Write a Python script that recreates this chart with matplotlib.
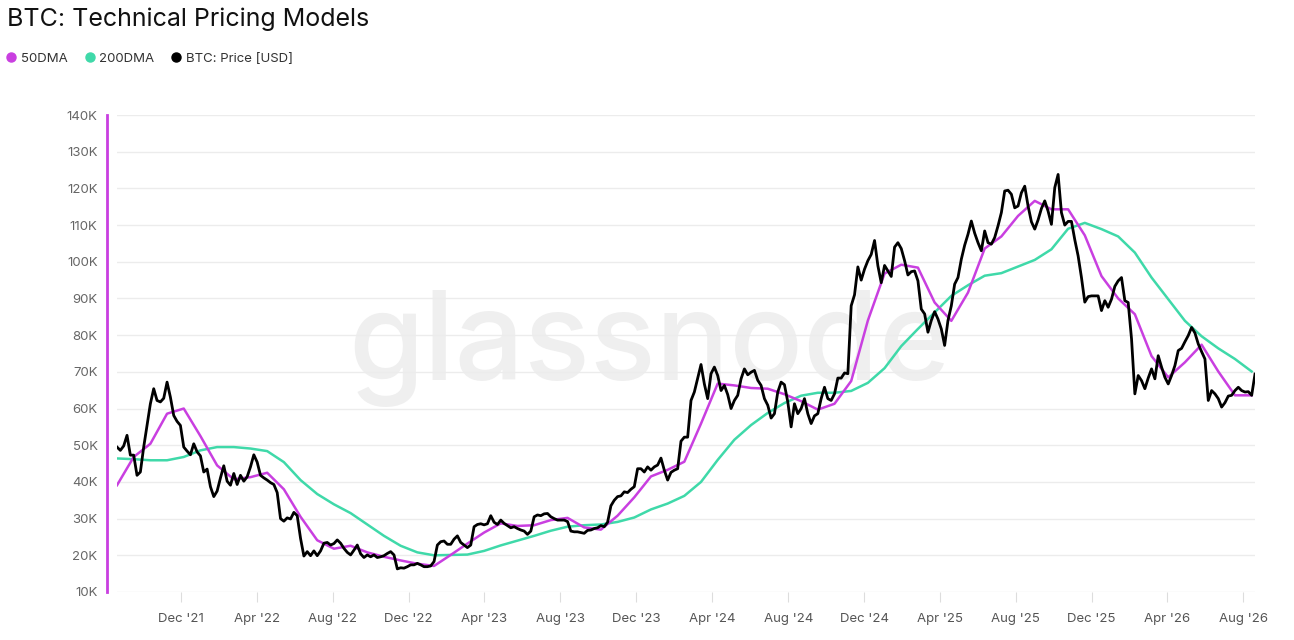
import matplotlib
matplotlib.use("Agg")
import matplotlib.pyplot as plt
import matplotlib.dates as mdates
from matplotlib.lines import Line2D
from matplotlib.ticker import FuncFormatter, MultipleLocator
import pandas as pd

plt.rcParams["font.family"] = ["Inter", "DejaVu Sans"]

# BTC price [K USD], sampled evenly from 2021-08-20 to 2026-08-20
price_2021_22 = [
    49.5, 48.6, 49.8, 52.7, 47.3, 47.3, 41.8, 42.7, 49.5, 55.4,
    61.3, 65.4, 62.2, 61.8, 62.8, 67.2, 63.1, 58.1, 56.5, 55.4,
    49.5, 48.4, 47.4, 50.4, 48.2, 47.1, 42.7, 43.5, 38.7, 36.0,
    37.5, 41.1, 44.4, 40.2, 39.1, 42.3, 39.3, 41.8, 40.2, 41.4,
    44.1, 47.4, 45.4, 41.8, 41.1, 40.5, 39.8, 39.3, 37.1, 30.0,
    29.3, 30.2, 29.9, 31.7, 30.8, 24.6, 19.8, 21.0, 19.9, 21.2,
    19.9, 21.2, 23.3, 23.5, 22.8, 23.2,
]
price_2022_23 = [
    24.2, 23.3, 21.9, 20.8, 20.1, 21.4, 22.8, 20.4, 19.4, 20.1,
    19.6, 20.1, 19.4, 19.6, 19.9, 20.5, 21.0, 20.1, 16.3, 16.6,
    16.5, 16.9, 17.4, 17.4, 17.8, 17.4, 16.9, 16.9, 17.1, 18.3,
    22.8, 23.7, 23.9, 23.0, 23.0, 24.4, 25.3, 23.5, 22.8, 22.1,
    22.8, 27.8, 28.4, 28.6, 28.3, 28.6, 30.8, 29.0, 28.4, 29.6,
    28.7, 28.1, 27.5, 27.8, 27.3, 26.9, 26.6, 25.7, 26.6, 30.5,
    31.0, 30.8, 31.3, 31.4, 30.5, 30.0, 29.6, 29.6, 29.6, 29.2,
    26.6, 26.4, 26.4, 26.2, 26.0, 26.8, 26.9, 27.3, 27.5, 28.1,
]
price_2023_24 = [
    27.8, 29.0, 33.5, 35.0, 36.0, 36.2, 37.3, 37.1, 38.0, 38.7,
    43.6, 43.6, 42.7, 44.1, 43.2, 44.1, 44.6, 46.5, 43.2, 40.5,
    42.6, 43.2, 43.6, 51.1, 52.2, 52.2, 62.2, 64.5, 68.3, 72.0,
    66.7, 62.7, 69.5, 71.3, 69.0, 64.9, 66.3, 63.8, 60.0, 62.2,
    63.6, 68.1, 70.8, 69.2, 69.9, 70.4, 67.7, 66.3, 62.7, 60.9,
    57.4, 58.6, 64.5, 67.2, 66.5, 61.8, 55.0, 61.3, 58.6, 60.0,
    62.7, 58.6, 55.9, 58.0, 58.6, 62.7, 65.8, 62.7, 62.2, 64.0,
    68.3, 68.3, 69.7, 69.5,
]
price_2024_25 = [
    88.0, 91.0, 98.6, 95.0, 98.0, 100.3,
    102.0, 105.8, 98.9, 94.3, 99.0, 97.5, 96.0, 104.0, 105.2, 103.6,
    100.3, 96.4, 97.3, 97.5, 94.8, 87.1, 85.8, 80.8, 84.0, 86.4,
    84.4, 81.7, 77.2, 84.0, 88.0, 93.9, 95.7, 100.7, 104.5, 107.5,
    111.1, 107.8, 105.2, 103.0, 108.4, 105.2, 104.8, 106.6, 109.8, 113.4,
    119.3, 119.5, 118.4, 114.7, 115.2, 118.8, 120.6, 115.2, 110.9, 108.9,
    111.4, 114.5, 116.6, 113.8, 110.2, 120.2, 123.8, 113.4,
]
price_2025_26 = [
    110.0, 111.0, 111.0, 106.0, 101.6, 95.7, 89.0, 90.5, 90.7, 90.7,
    90.7, 86.7, 89.4, 87.6, 89.8, 93.3, 94.8, 95.7, 89.4, 88.9,
    79.0, 64.0, 69.0, 67.6, 65.4, 68.3, 70.8, 68.1, 74.4, 71.3,
    68.5, 66.7, 69.0, 71.7, 75.8, 76.4, 78.2, 79.9, 82.1, 80.6,
    77.6, 75.5, 73.5, 62.2, 64.9, 64.0, 62.7, 60.4, 61.6, 63.4,
    63.6, 64.9, 65.8, 64.9, 64.5, 64.6, 63.6, 69.4,
]

# moving averages [K USD], every 5th price sample
ma50 = [
    39.1, 46.8, 50.4, 58.6, 60.0, 52.5, 44.5, 40.7, 41.3, 42.5,
    38.0, 30.5, 24.1, 21.8, 22.6, 20.8, 19.6, 18.6, 17.7, 17.1,
    20.1, 23.2, 26.2, 28.7, 28.0, 28.2, 29.6, 30.2, 27.6, 27.0,
    30.8, 35.8, 41.5, 43.3, 45.5, 55.9, 66.8, 66.3, 65.6, 65.4,
    63.9, 62.0, 59.7, 61.3, 67.5, 84.0, 96.8, 99.2, 98.4, 88.9,
    83.9, 91.6, 103.6, 106.9, 112.5, 116.6, 114.3, 114.3, 107.2, 96.1,
    90.0, 85.7, 74.3, 68.5, 72.6, 77.4, 70.1, 63.6, 63.6,
]
ma200 = [
    46.4, 46.2, 45.9, 45.9, 46.8, 48.6, 49.5, 49.5, 49.1, 48.4,
    45.4, 40.5, 36.7, 33.9, 31.5, 28.4, 25.3, 22.6, 20.8, 20.0,
    20.1, 20.2, 21.2, 22.7, 24.0, 25.3, 26.7, 27.8, 28.2, 28.4,
    29.1, 30.3, 32.5, 34.1, 36.2, 40.0, 46.0, 51.5, 55.5, 58.8,
    61.5, 63.5, 64.3, 64.3, 64.8, 67.0, 71.0, 77.0, 81.7, 86.2,
    90.7, 93.6, 96.2, 96.9, 98.7, 100.5, 103.4, 109.0, 110.6, 108.9,
    106.9, 102.5, 95.7, 89.8, 83.9, 79.7, 76.4, 73.5, 70.1,
]

price = price_2021_22 + price_2022_23 + price_2023_24 + price_2024_25 + price_2025_26
start, end = pd.Timestamp("2021-08-20"), pd.Timestamp("2026-08-20")
dates = pd.date_range(start, end, periods=len(price))
ma_dates = dates[::5][:len(ma50)]

C50 = "#c93fe0"
C200 = "#3fd9a9"

fig = plt.figure(figsize=(12.94, 6.40), dpi=100)
ax = fig.add_axes([117 / 1294, 1 - 592 / 640, (1255 - 117) / 1294, (592 - 115) / 640])

ax.text(0.468, 0.51, "glassnode", transform=ax.transAxes, ha="center", va="center",
        fontsize=88, color="#efefef", fontweight="medium", zorder=0)

ax.plot(ma_dates, [v * 1000 for v in ma200], color=C200, lw=1.8, zorder=2)
ax.plot(ma_dates, [v * 1000 for v in ma50], color=C50, lw=1.8, zorder=3)
ax.plot(dates, [v * 1000 for v in price], color="black", lw=2.0, zorder=4)

ax.set_xlim(start, end)
ax.set_ylim(10000, 140000)
ax.yaxis.set_major_locator(MultipleLocator(10000))
ax.yaxis.set_major_formatter(FuncFormatter(lambda v, _: f"{int(v / 1000)}K"))
ax.xaxis.set_major_locator(mdates.MonthLocator(bymonth=[4, 8, 12]))
ax.xaxis.set_major_formatter(mdates.DateFormatter("%b '%y"))

ax.grid(axis="y", color="#ececec", lw=1)
ax.set_axisbelow(True)
for s in ["top", "right", "bottom"]:
    ax.spines[s].set_visible(False)
ax.spines["left"].set_position(("outward", 7))
ax.spines["left"].set_color(C50)
ax.spines["left"].set_linewidth(2)
ax.tick_params(axis="y", length=0, pad=7, labelsize=9.5, labelcolor="#666666")
ax.tick_params(axis="x", length=7, color="#dddddd", pad=8, labelsize=9.5, labelcolor="#555555")

fig.text(7 / 1294, 1 - 19 / 640, "BTC: Technical Pricing Models", fontsize=18,
         color="#111111", ha="left", va="center")

handles = [
    Line2D([], [], ls="none", marker="o", ms=6.5, color=C50, label="50DMA"),
    Line2D([], [], ls="none", marker="o", ms=6.5, color=C200, label="200DMA"),
    Line2D([], [], ls="none", marker="o", ms=6.5, color="black", label="BTC: Price [USD]"),
]
fig.legend(handles=handles, loc="center left", bbox_to_anchor=(6 / 1294, 1 - 59 / 640),
           ncol=3, frameon=False, borderpad=0, borderaxespad=0, handlelength=0.8,
           handletextpad=0.3, columnspacing=1.3, fontsize=9.5, labelcolor="#333333")

fig.savefig("out.png", dpi=100)
